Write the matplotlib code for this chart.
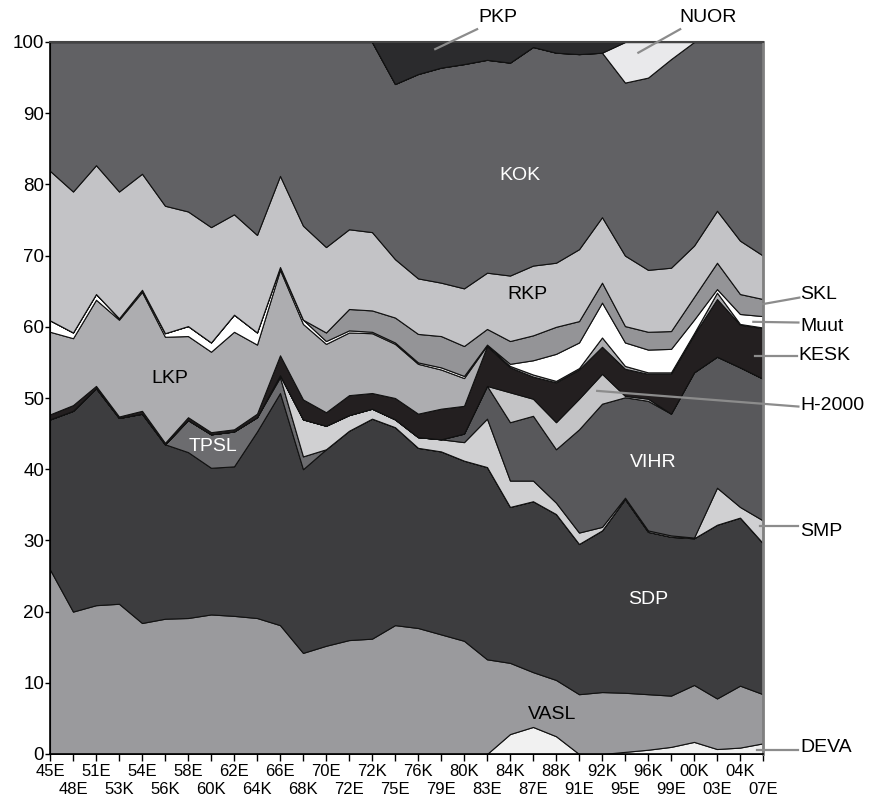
import matplotlib.pyplot as plt
import numpy as np

# -----------------------------------------------------------------------------------------------------

# Elections (E = eduskunta, K = kunnallisvaalit)
elections = ['45E', '48E', '51E', '53K', '54E', '56K', '58E', '60K', '62E', '64K', '66E', '68K',
             '70E', '72E', '72K', '75E', '76K', '79E', '80K', '83E', '84K', '87E', '88K', '91E',
             '92K', '95E', '96K', '99E', '00K', '03E', '04K', '07E']

# Vote shares (%) per party, bottom of the stack first
deva = [0, 0, 0, 0, 0, 0, 0, 0, 0, 0, 0, 0, 0, 0, 0, 0, 0, 0, 0, 0,
        2.8, 3.8, 2.5, 0, 0, 0.3, 0.6, 1.0, 1.7, 0.7, 0.9, 1.5]
vasl = [25.9, 20.0, 20.9, 21.1, 18.4, 19.0, 19.1, 19.6, 19.4, 19.1, 18.1, 14.2, 15.2, 16.0, 16.2, 18.1,
        17.7, 16.8, 15.9, 13.3, 10.0, 7.7, 7.9, 8.4, 8.7, 8.3, 7.8, 7.2, 8.0, 7.1, 8.7, 6.9]
sdp = [21.1, 28.2, 30.5, 26.1, 29.4, 24.5, 23.3, 20.6, 21.0, 26.2, 32.6, 25.8, 27.6, 29.4, 30.9, 27.8,
       25.3, 25.7, 25.3, 27.0, 21.9, 24.0, 23.3, 21.1, 22.7, 27.2, 22.8, 22.3, 20.6, 24.4, 23.6, 21.2]
tpsl = [0, 0, 0, 0, 0, 0, 4.5, 4.7, 4.9, 2.0, 2.2, 1.8, 0, 0, 0, 0,
        0, 0, 0, 0, 0, 0, 0, 0, 0, 0, 0, 0, 0, 0, 0, 0]
smp = [0, 0, 0, 0, 0, 0, 0, 0, 0, 0, 0.3, 5.2, 3.3, 2.2, 1.4, 1.1,
       1.5, 1.7, 2.6, 6.8, 3.7, 2.9, 1.6, 1.6, 0.5, 0.2, 0.2, 0.2, 0.1, 5.2, 1.5, 3.2]
vihr = [0, 0, 0, 0, 0, 0, 0, 0, 0, 0, 0, 0, 0, 0, 0, 0,
        0, 0, 1.2, 4.6, 8.2, 9.1, 7.5, 14.5, 17.3, 14.1, 18.2, 17.1, 23.2, 18.4, 19.6, 19.9]
h2000 = [0, 0, 0, 0, 0, 0, 0, 0, 0, 0, 0, 0, 0, 0, 0, 0,
         0, 0, 0, 0, 4.2, 2.4, 3.8, 4.3, 4.2, 0.2, 0.3, 0, 0, 0, 0, 0]
kesk = [0.7, 0.8, 0.3, 0.2, 0.4, 0.2, 0.4, 0.3, 0.3, 0.5, 2.8, 2.8, 1.9, 2.8, 2.2, 3.0,
        3.3, 4.3, 3.9, 5.6, 3.5, 3.1, 5.6, 4.1, 3.8, 3.8, 3.5, 5.6, 5.3, 8.1, 6.0, 7.1]
lkp = [11.6, 9.4, 12.1, 13.6, 16.7, 14.9, 11.4, 11.3, 13.7, 9.7, 12.0, 10.6, 9.6, 8.8, 8.4, 7.6,
       7.0, 5.5, 3.9, 0.1, 0.2, 0.3, 0.2, 0.2, 1.3, 0.4, 0.2, 0.2, 0.2, 0.9, 0.1, 0.1]
muut = [1.6, 0.8, 0.8, 0.2, 0.3, 0.5, 1.4, 1.3, 2.4, 1.7, 0.4, 0.6, 0.4, 0.3, 0.2, 0.2,
        0.2, 0.3, 0.3, 0.1, 0.3, 2.0, 3.8, 3.6, 4.9, 3.3, 3.2, 3.3, 1.9, 0.5, 1.4, 1.6]
skl = [0, 0, 0, 0, 0, 0, 0, 0, 0, 0, 0, 0, 1.2, 3.0, 3.0, 3.5,
       4.0, 4.4, 4.2, 2.2, 3.2, 3.5, 3.8, 3.0, 2.8, 2.3, 2.5, 2.5, 3.2, 3.7, 2.8, 2.4]
rkp = [21.0, 19.8, 18.1, 17.8, 16.3, 17.9, 16.1, 16.2, 14.1, 13.7, 12.8, 13.2, 12.0, 11.2, 11.0, 8.2,
       7.8, 7.5, 8.1, 7.9, 9.2, 9.8, 9.0, 10.1, 9.2, 9.9, 8.7, 8.9, 7.2, 7.3, 7.5, 6.1]
kok = [18.1, 21.0, 17.3, 21.0, 18.5, 23.0, 23.8, 26.0, 24.2, 27.1, 18.8, 25.8, 28.8, 26.3, 26.7, 24.6,
       28.7, 30.2, 31.5, 29.9, 29.9, 30.7, 29.5, 27.4, 23.1, 24.3, 27.0, 29.3, 28.6, 23.7, 27.9, 30.0]
nuor = [0, 0, 0, 0, 0, 0, 0, 0, 0, 0, 0, 0, 0, 0, 0, 0,
        0, 0, 0, 0, 0, 0, 0, 0, 0, 5.7, 5.0, 2.4, 0, 0, 0, 0]
pkp = [0, 0, 0, 0, 0, 0, 0, 0, 0, 0, 0, 0, 0, 0, 0, 5.9,
       4.5, 3.6, 3.1, 2.5, 2.9, 0.7, 1.5, 1.7, 1.5, 0, 0, 0, 0, 0, 0, 0]

# Grey fills for each layer (same order as the stack)
layer_colors = ['#f1f1f1', '#9a9a9d', '#3d3d3f', '#6c6c6f', '#d0d0d2', '#58585b', '#c4c4c6', '#231f20',
                '#adadb0', '#ffffff', '#949497', '#c3c3c6', '#616164', '#e9e9eb', '#2b2b2d']

# -----------------------------------------------------------------------------------------------------

plt.rcParams['font.family'] = ['Liberation Sans', 'DejaVu Sans']

fig = plt.figure(figsize=(8.72, 7.96), dpi=100)
ax = fig.add_axes([50/872, 1 - 754/796, 713/872, 712/796])

x = np.arange(len(elections))
ax.stackplot(x, deva, vasl, sdp, tpsl, smp, vihr, h2000, kesk, lkp, muut, skl, rkp, kok, nuor, pkp,
             colors=layer_colors, edgecolor='#111111', linewidth=0.8)

ax.set_xlim(0, len(elections) - 1)
ax.set_ylim(0, 100)

# x labels alternate between two rows: even ones on major ticks, odd ones on minor ticks
ax.set_xticks(x[::2])
ax.set_xticklabels(elections[::2])
ax.set_xticks(x[1::2], minor=True)
ax.set_xticklabels(elections[1::2], minor=True)
ax.tick_params(axis='x', which='both', direction='out', length=5, width=1)
ax.tick_params(axis='x', which='major', pad=2)
ax.tick_params(axis='x', which='minor', pad=15)
for lab in ax.get_xticklabels(which='both'):
    lab.set_fontfamily(['Liberation Sans Narrow', 'Liberation Sans'])
    lab.set_fontsize(12)

ax.set_yticks(np.arange(0, 101, 10))
ax.tick_params(axis='y', labelsize=13.5, direction='out', length=3.5, width=1, pad=0.8)

ax.spines['left'].set_linewidth(1.2)
ax.spines['bottom'].set_linewidth(1.2)
ax.spines['top'].set_color('#444444')
ax.spines['top'].set_linewidth(1.5)
ax.spines['right'].set_color('#808080')
ax.spines['right'].set_linewidth(2)

# -----------------------------------------------------------------------------------------------------

# Labels inside the areas
ax.text(20.44, 81.2, 'KOK', color='white', fontsize=14, ha='center', va='center')
ax.text(20.75, 64.5, 'RKP', color='black', fontsize=14, ha='center', va='center')
ax.text(5.22, 52.8, 'LKP', color='black', fontsize=14, ha='center', va='center')
ax.text(7.09, 43.2, 'TPSL', color='white', fontsize=14, ha='center', va='center')
ax.text(26.23, 40.9, 'VIHR', color='white', fontsize=14, ha='center', va='center')
ax.text(26.0, 21.7, 'SDP', color='white', fontsize=14, ha='center', va='center')
ax.text(21.84, 5.6, 'VASL', color='black', fontsize=14, ha='center', va='center')

# Labels outside with grey leader lines: (text, text x, text y, line start, line end, alignment)
outside_labels = [
    ('PKP', 19.49, 103.4, (16.75, 99.0), (18.57, 101.8), 'center'),
    ('NUOR', 28.62, 103.4, (25.58, 98.5), (27.4, 101.8), 'center'),
    ('SKL', 32.62, 64.6, (31.01, 63.2), (32.58, 64.1), 'left'),
    ('Muut', 32.62, 60.0, (30.58, 60.7), (32.54, 60.6), 'left'),
    ('KESK', 32.55, 55.9, (30.67, 55.9), (32.48, 55.9), 'left'),
    ('H-2000', 32.62, 49.0, (23.79, 51.0), (32.54, 48.8), 'left'),
    ('SMP', 32.62, 31.3, (30.88, 32.0), (32.54, 32.0), 'left'),
    ('DEVA', 32.62, 0.9, (30.75, 0.6), (32.54, 0.6), 'left'),
]
for name, tx, ty, p0, p1, ha in outside_labels:
    ax.plot([p0[0], p1[0]], [p0[1], p1[1]], color='#8c8c8c', linewidth=1.6, clip_on=False, zorder=5)
    ax.text(tx, ty, name, fontsize=14, ha=ha, va='center', clip_on=False)

plt.savefig('out.png', dpi=100)
